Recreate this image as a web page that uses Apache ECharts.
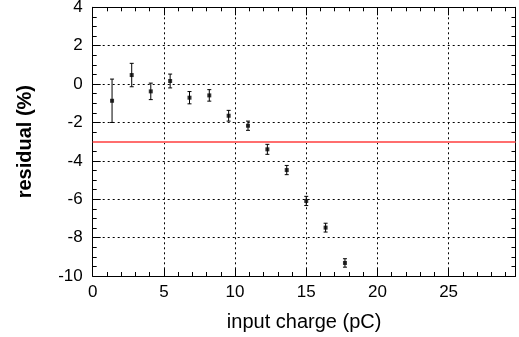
<!DOCTYPE html>
<html>
<head>
<meta charset="utf-8">
<script src="https://cdn.jsdelivr.net/npm/echarts@6/dist/echarts.min.js"></script>
<style>
html,body{margin:0;padding:0;background:#fff;}
#c{width:519px;height:337px;}
</style>
</head>
<body>
<div id="c"></div>
<script>
// Data
const xValues = [1.36, 2.74, 4.08, 5.44, 6.80, 8.19, 9.55, 10.91, 12.27, 13.63, 15.00, 16.36, 17.72];
const yValues = [-0.87, 0.47, -0.38, 0.16, -0.71, -0.59, -1.65, -2.17, -3.40, -4.48, -6.09, -7.48, -9.32];
const yErrors = [1.13, 0.61, 0.43, 0.36, 0.32, 0.30, 0.28, 0.24, 0.26, 0.24, 0.24, 0.23, 0.22];
const referenceLevel = -3;
const xTitle = 'input charge (pC)';
const yTitle = 'residual (%)';

const points = xValues.map((x, i) => [x, yValues[i]]);
const bars = xValues.map((x, i) => [x, yValues[i] - yErrors[i], yValues[i] + yErrors[i]]);

const FONT = 'Liberation Sans, Arial, sans-serif';
const X_MIN = 0, X_MAX = 29.7, Y_MIN = -10, Y_MAX = 4;

function xAxisCfg(pos, labels) {
  return {
    type: 'value', position: pos, min: X_MIN, max: X_MAX, interval: 5,
    axisLine: {show: true, onZero: false, lineStyle: {color: '#000', width: 1}},
    axisTick: {show: true, inside: true, length: 8, lineStyle: {color: '#000'}},
    minorTick: {show: true, splitNumber: 5, length: 4, lineStyle: {color: '#000'}},
    splitLine: {show: labels, lineStyle: {color: '#000', type: [2, 3], width: 1}},
    axisLabel: {show: labels, showMaxLabel: false, color: '#000', fontSize: 17, fontFamily: FONT, margin: 8},
    name: labels ? xTitle : '', nameLocation: 'middle', nameGap: 36,
    nameTextStyle: {color: '#000', fontSize: 20, fontFamily: FONT}
  };
}
function yAxisCfg(pos, labels) {
  return {
    type: 'value', position: pos, min: Y_MIN, max: Y_MAX, interval: 2,
    axisLine: {show: true, onZero: false, lineStyle: {color: '#000', width: 1}},
    axisTick: {show: true, inside: true, length: 8, lineStyle: {color: '#000'}},
    minorTick: {show: true, splitNumber: 4, length: 4, lineStyle: {color: '#000'}},
    splitLine: {show: labels, lineStyle: {color: '#000', type: [2, 3], width: 1}},
    axisLabel: {show: labels, color: '#000', fontSize: 17, fontFamily: FONT, margin: 10, padding: [4, 0, 0, 0]},
    name: labels ? yTitle : '', nameLocation: 'middle', nameGap: 57,
    nameTextStyle: {color: '#000', fontSize: 20, fontWeight: 'bold', fontFamily: FONT}
  };
}

const chart = echarts.init(document.getElementById('c'), null, {renderer: 'canvas'});
chart.setOption({
  animation: false,
  backgroundColor: '#fff',
  grid: {left: 92.7, right: 3.5, top: 7.3, bottom: 61, containLabel: false, outerBoundsMode: 'none'},
  xAxis: [xAxisCfg('bottom', true), xAxisCfg('top', false)],
  yAxis: [yAxisCfg('left', true), yAxisCfg('right', false)],
  series: [
    {
      type: 'line', xAxisIndex: 0, yAxisIndex: 0, data: [], silent: true,
      markLine: {
        symbol: 'none', silent: true, label: {show: false},
        lineStyle: {color: '#ff6e6e', width: 2, type: 'solid'},
        data: [{yAxis: referenceLevel}]
      }
    },
    {
      type: 'custom', xAxisIndex: 0, yAxisIndex: 0, data: bars,
      renderItem: function (params, api) {
        const x = api.value(0);
        const top = api.coord([x, api.value(2)]);
        const bot = api.coord([x, api.value(1)]);
        const s = {stroke: '#000', lineWidth: 1};
        const c = 2;
        return {type: 'group', children: [
          {type: 'line', shape: {x1: top[0], y1: top[1], x2: bot[0], y2: bot[1]}, style: s},
          {type: 'line', shape: {x1: top[0] - c, y1: top[1], x2: top[0] + c, y2: top[1]}, style: s},
          {type: 'line', shape: {x1: bot[0] - c, y1: bot[1], x2: bot[0] + c, y2: bot[1]}, style: s}
        ]};
      }
    },
    {
      type: 'scatter', xAxisIndex: 0, yAxisIndex: 0, data: points,
      symbol: 'rect', symbolSize: 4, itemStyle: {color: '#000'}
    }
  ]
});
</script>
</body>
</html>
